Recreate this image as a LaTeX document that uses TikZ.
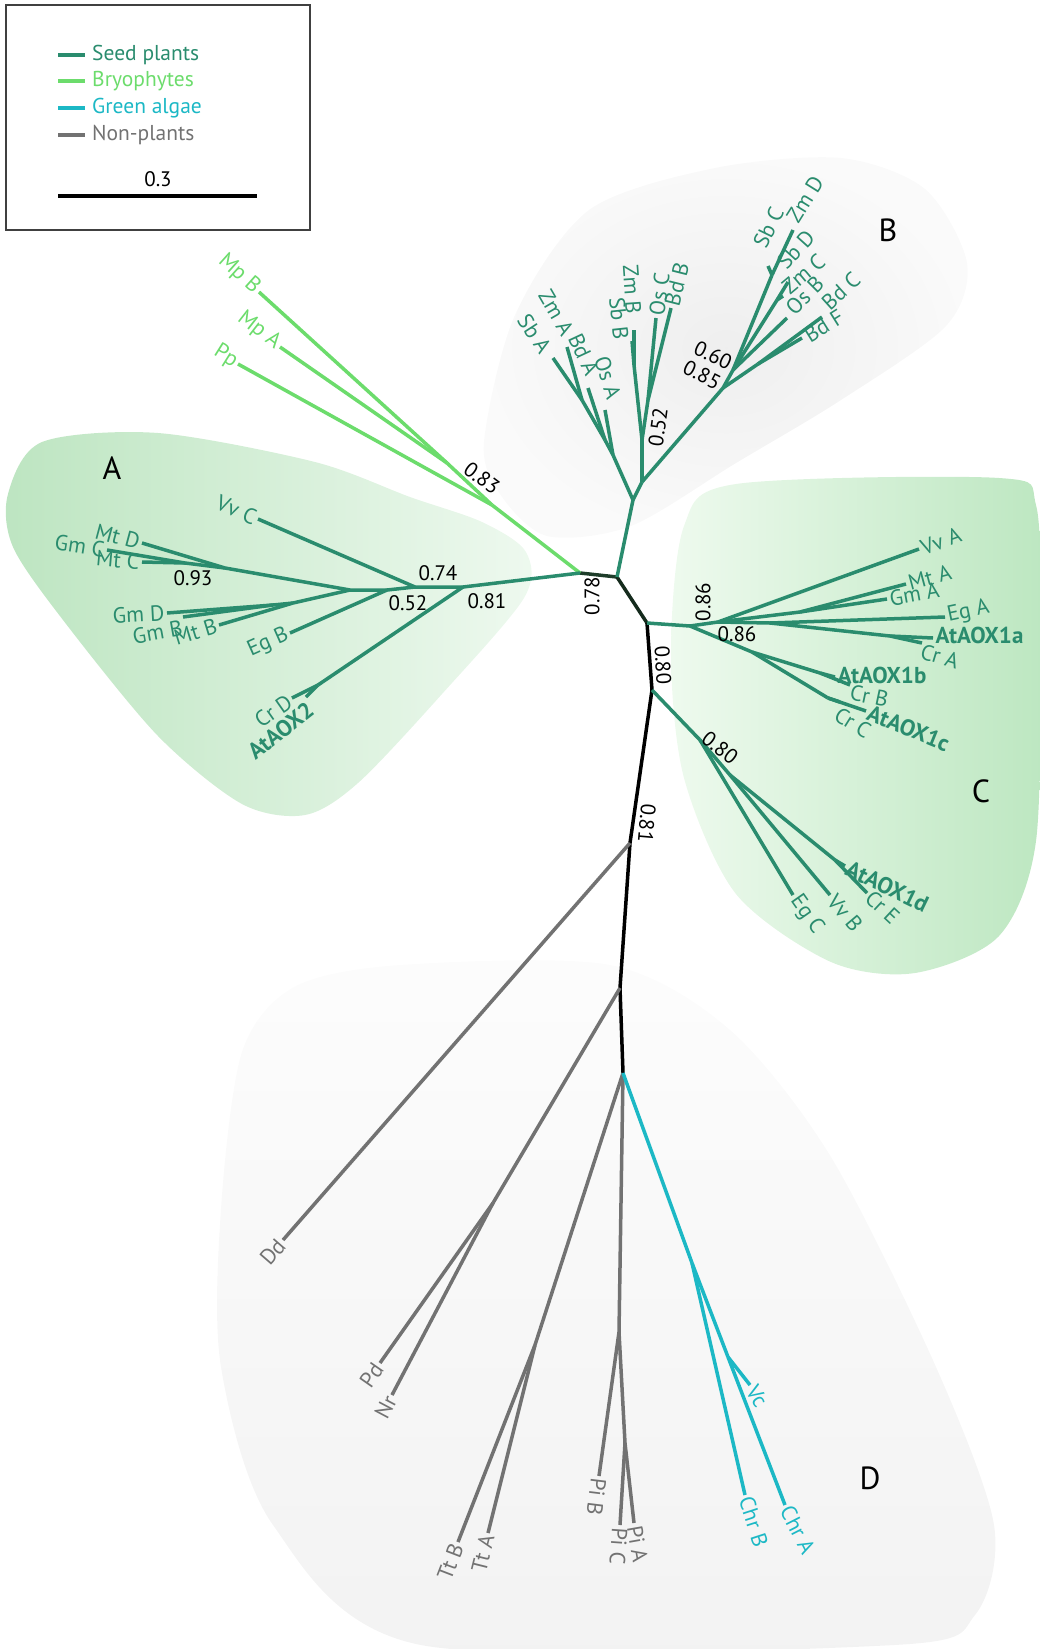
\documentclass[tikz,border=0pt]{standalone}
\usepackage{fontspec}
\setmainfont{PT Sans}
\definecolor{seedc}{HTML}{2A8C6E}
\definecolor{bryoc}{HTML}{6CDC6C}
\definecolor{algac}{HTML}{1CB8C5}
\definecolor{nonpc}{HTML}{727272}
\definecolor{rootc}{HTML}{1E3D2A}
\definecolor{blobAl}{HTML}{BDE5C1}
\definecolor{blobAr}{HTML}{EEF9EF}
\definecolor{blobCl}{HTML}{EEFAEE}
\definecolor{blobCr}{HTML}{BDE7C1}

\begin{document}
\begin{tikzpicture}[x=1pt, y=-1pt,
  br/.style={line width=3.5pt, line join=round},
  seed/.style={br, draw=seedc}, bryo/.style={br, draw=bryoc}, alga/.style={br, draw=algac},
  nonp/.style={br, draw=nonpc}, stem/.style={br, draw=black}, dark/.style={br, draw=rootc},
  lab/.style={inner sep=2.5pt, font=\fontsize{22}{24}\selectfont},
  slab/.style={lab, text=seedc}, blab/.style={lab, text=bryoc},
  alab/.style={lab, text=algac}, nlab/.style={lab, text=nonpc},
  key/.style={slab, font=\fontsize{23}{25}\selectfont\bfseries},
  bs/.style={inner sep=0pt, font=\fontsize{21}{23}\selectfont},
  leg/.style={inner sep=0pt, anchor=west, font=\fontsize{21.5}{24}\selectfont},
  clade/.style={inner sep=0pt, font=\fontsize{32}{36}\selectfont}]
\useasboundingbox (0,0) rectangle (1040,1649);

% shaded clade areas
\shade[left color=blobAl, right color=blobAr] plot[smooth cycle] coordinates {(8,494) (42,442) (158,433) (315,462) (410,497) (482,522) (526,552) (524,598) (442,694) (358,783) (305,815) (242,804) (158,736) (63,620) (13,547)};
\shade[inner color=gray!13, outer color=gray!4] plot[smooth cycle] coordinates {(484,442) (515,315) (589,210) (715,168) (841,158) (925,189) (967,263) (946,326) (841,400) (736,463) (631,526) (547,536) (500,494)};
\shade[left color=blobCl, right color=blobCr] plot[smooth cycle] coordinates {(684,526) (736,484) (999,478) (1036,505) (1040,631) (1036,841) (999,936) (915,973) (831,962) (736,894) (684,778) (671,652)};
\shade[top color=gray!2, bottom color=gray!10] plot[smooth cycle] coordinates {(221,1209) (242,1052) (294,987) (400,965) (610,965) (730,1030) (831,1157) (936,1367) (994,1525) (975,1615) (894,1645) (421,1645) (273,1525) (221,1367)};

% legend
\draw[line width=1.5pt, draw=black!75] (6,5) rectangle (310,230);
\draw[seed] (58,55) -- (85,55); \node[leg, text=seedc] (kSeed) at (92,55) {Seed plants};
\draw[bryo] (58,81) -- (85,81); \node[leg, text=bryoc] (kBryo) at (92,81) {Bryophytes};
\draw[alga] (58,108) -- (85,108); \node[leg, text=algac] (kAlga) at (92,108) {Green algae};
\draw[nonp] (58,135) -- (85,135); \node[leg, text=nonpc] (kNonp) at (92,135) {Non-plants};
\draw[line width=4pt] (58,196) -- (257,196); \node[bs] (kScale) at (158,179) {0.3};

% backbone
\coordinate (r78) at (580,573); \coordinate (r0) at (617,577); \coordinate (r86) at (647,623);
\coordinate (r80) at (652,690); \coordinate (r81) at (630,843); \coordinate (rP) at (620,988);
\coordinate (rT) at (623,1073);
\draw[dark] (r78) -- (r0); \draw[draw=rootc!70!black, br] (r0) -- (r86);
\draw[stem] (r86) -- (r80) -- (r81) -- (rP) -- (rT);

% bryophytes
\coordinate (b83) at (492,505); \coordinate (bMp) at (447,463);
\coordinate (tMpB) at (259,292); \coordinate (tMpA) at (280,347); \coordinate (tPp) at (238,364);
\draw[bryo] (r78) -- (b83); \draw[bryo] (b83) -- (tPp); \draw[bryo] (b83) -- (bMp);
\draw[bryo] (bMp) -- (tMpB); \draw[bryo] (bMp) -- (tMpA);
\node[blab, anchor=east, rotate=-42] (lMpB) at (tMpB) {Mp B};
\node[blab, anchor=east, rotate=-38] (lMpA) at (tMpA) {Mp A};
\node[blab, anchor=east, rotate=-32] (lPp) at (tPp) {Pp};

% clade A
\coordinate (a81) at (463,587); \coordinate (a74) at (415,587); \coordinate (a52) at (387,590);
\coordinate (agm) at (350,590); \coordinate (aU) at (225,568); \coordinate (aUb) at (185,563);
\coordinate (aL) at (293,603); \coordinate (aLb) at (273,605); \coordinate (a2) at (318,685);
\coordinate (tVvC) at (258,519); \coordinate (tMtD) at (142,543); \coordinate (tGmC) at (107,550);
\coordinate (tMtC) at (142,562); \coordinate (tGmD) at (167,613); \coordinate (tGmB) at (183,617);
\coordinate (tMtB) at (219,625); \coordinate (tEgB) at (290,633); \coordinate (tCrD) at (292,698);
\coordinate (tAOX2) at (306,697);
\draw[seed] (r78) -- (a81) -- (a74) -- (a52) -- (agm);
\draw[seed] (a74) -- (tVvC); \draw[seed] (a52) -- (tEgB);
\draw[seed] (agm) -- (aU); \draw[seed] (aU) -- (tMtD); \draw[seed] (aU) -- (aUb);
\draw[seed] (aUb) -- (tGmC); \draw[seed] (aUb) -- (tMtC);
\draw[seed] (agm) -- (aL); \draw[seed] (aL) -- (tMtB); \draw[seed] (aL) -- (aLb);
\draw[seed] (aLb) -- (tGmD); \draw[seed] (aLb) -- (tGmB);
\draw[seed] (a81) -- (a2); \draw[seed] (a2) -- (tCrD); \draw[seed] (a2) -- (tAOX2);
\node[slab, anchor=east, rotate=-23] (lVvC) at (tVvC) {Vv C};
\node[slab, anchor=east, rotate=-15] (lMtD) at (tMtD) {Mt D};
\node[slab, anchor=east, rotate=-9] (lGmC) at (tGmC) {Gm C};
\node[slab, anchor=east, rotate=-5] (lMtC) at (tMtC) {Mt C};
\node[slab, anchor=east, rotate=3] (lGmD) at (tGmD) {Gm D};
\node[slab, anchor=north east, rotate=10] (lGmB) at (tGmB) {Gm B};
\node[slab, anchor=east, rotate=17] (lMtB) at (tMtB) {Mt B};
\node[slab, anchor=east, rotate=24] (lEgB) at (tEgB) {Eg B};
\node[slab, anchor=east, rotate=35] (lCrD) at (tCrD) {Cr D};
\node[key, anchor=north east, rotate=38] (lAOX2) at (tAOX2) {AtAOX2};
\node[bs] (s74) at (438,573) {0.74};
\node[bs] (s52a) at (408,603) {0.52};
\node[bs] (s81a) at (487,601) {0.81};
\node[bs] (s93) at (193,578) {0.93};
\node[bs, rotate=-37] (s83) at (482,478) {0.83};
\node[bs, rotate=90] (s78) at (592,596) {0.78};
\node[clade] (cA) at (112,468) {A};

% clade B
\coordinate (bs) at (633,500); \coordinate (bl) at (613,455); \coordinate (bl2) at (605,440);
\coordinate (bl3) at (582,400); \coordinate (bR) at (642,482); \coordinate (b52) at (642,440);
\coordinate (bZB) at (634,365); \coordinate (bOB) at (648,400);
\coordinate (b85) at (723,388); \coordinate (b60) at (733,370); \coordinate (bZD) at (772,275);
\coordinate (bSD) at (777,300); \coordinate (bBd) at (758,364);
\coordinate (tSbA) at (553,358); \coordinate (tZmA) at (567,347); \coordinate (tBdA) at (588,388);
\coordinate (tOsA) at (605,410); \coordinate (tZmB) at (634,330); \coordinate (tSbB) at (632,341);
\coordinate (tOsC) at (656,318); \coordinate (tBdB) at (671,308);
\coordinate (tZmD) at (793,230); \coordinate (tSbC) at (768,266); \coordinate (tSbD) at (788,282);
\coordinate (tZmC) at (783,296); \coordinate (tOsB) at (787,318); \coordinate (tBdC) at (822,317);
\coordinate (tBdF) at (802,338);
\draw[seed] (r0) -- (bs) -- (bl); \draw[seed] (bs) -- (bR);
\draw[seed] (bl) -- (tOsA); \draw[seed] (bl) -- (bl2); \draw[seed] (bl2) -- (tBdA);
\draw[seed] (bl2) -- (bl3); \draw[seed] (bl3) -- (tSbA); \draw[seed] (bl3) -- (tZmA);
\draw[seed] (bR) -- (b52); \draw[seed] (b52) -- (bZB); \draw[seed] (bZB) -- (tZmB);
\draw[seed] (bZB) -- (tSbB); \draw[seed] (b52) -- (bOB); \draw[seed] (bOB) -- (tOsC);
\draw[seed] (bOB) -- (tBdB);
\draw[seed] (bR) -- (b85) -- (b60); \draw[seed] (b60) -- (bZD); \draw[seed] (bZD) -- (tZmD);
\draw[seed] (bZD) -- (tSbC); \draw[seed] (b60) -- (bSD); \draw[seed] (bSD) -- (tSbD);
\draw[seed] (bSD) -- (tZmC); \draw[seed] (b60) -- (tOsB);
\draw[seed] (b85) -- (bBd); \draw[seed] (bBd) -- (tBdC); \draw[seed] (bBd) -- (tBdF);
\node[slab, anchor=base east, rotate=-57] (lSbA) at ([xshift=-12pt]tSbA) {Sb A};
\node[slab, anchor=base east, rotate=-60] (lZmA) at ([shift={(-4pt,7pt)}]tZmA) {Zm A};
\node[slab, anchor=base east, rotate=-65] (lBdA) at ([shift={(-1pt,8pt)}]tBdA) {Bd A};
\node[slab, anchor=base east, rotate=-72] (lOsA) at ([shift={(3pt,7pt)}]tOsA) {Os A};
\node[slab, anchor=north east, rotate=-84] (lSbB) at (tSbB) {Sb B};
\node[slab, anchor=east, rotate=-86] (lZmB) at ([yshift=14pt]tZmB) {Zm B};
\node[slab, anchor=west, rotate=82] (lOsC) at (tOsC) {Os C};
\node[slab, anchor=west, rotate=76] (lBdB) at (tBdB) {Bd B};
\node[slab, anchor=base west, rotate=64] (lSbC) at ([shift={(-3pt,14pt)}]tSbC) {Sb C};
\node[slab, anchor=base west, rotate=58] (lZmD) at ([shift={(4pt,3pt)}]tZmD) {Zm D};
\node[slab, anchor=base west, rotate=48] (lSbD) at ([shift={(-3pt,9pt)}]tSbD) {Sb D};
\node[slab, anchor=base west, rotate=40] (lZmC) at ([shift={(5pt,-1pt)}]tZmC) {Zm C};
\node[slab, anchor=base west, rotate=45] (lOsB) at ([shift={(6pt,0pt)}]tOsB) {Os B};
\node[slab, anchor=base west, rotate=42] (lBdC) at ([shift={(6pt,4pt)}]tBdC) {Bd C};
\node[slab, anchor=base west, rotate=32] (lBdF) at ([shift={(6pt,-7pt)}]tBdF) {Bd F};
\node[bs, rotate=82] (s52b) at (658,427) {0.52};
\node[bs, rotate=-27] (s85) at (702,375) {0.85};
\node[bs, rotate=-25] (s60) at (713,355) {0.60};
\node[clade] (cB) at (888,230) {B};

% clade C
\coordinate (c86) at (690,626); \coordinate (cU) at (718,622); \coordinate (cM) at (800,612);
\coordinate (cE) at (770,623); \coordinate (cAA) at (890,636); \coordinate (cBC) at (752,652);
\coordinate (cB) at (820,673); \coordinate (cC) at (828,698);
\coordinate (cL) at (700,740); \coordinate (cV) at (730,775); \coordinate (cE2) at (835,860);
\coordinate (tVvA) at (919,549); \coordinate (tMtA) at (906,584); \coordinate (tGmA) at (887,599);
\coordinate (tEgA) at (945,617); \coordinate (tAOX1a) at (933,638); \coordinate (tCrA) at (922,643);
\coordinate (tAOX1b) at (835,677); \coordinate (tCrB) at (850,685); \coordinate (tAOX1c) at (866,711);
\coordinate (tCrC) at (840,702); \coordinate (tAOX1d) at (845,866); \coordinate (tCrE) at (867,893);
\coordinate (tVvB) at (830,895); \coordinate (tEgC) at (793,895);
\draw[seed] (r86) -- (c86) -- (cU); \draw[seed] (cU) -- (tVvA); \draw[seed] (cU) -- (cM);
\draw[seed] (cM) -- (tMtA); \draw[seed] (cM) -- (tGmA); \draw[seed] (cU) -- (cE);
\draw[seed] (cE) -- (tEgA); \draw[seed] (cE) -- (cAA); \draw[seed] (cAA) -- (tAOX1a);
\draw[seed] (cAA) -- (tCrA);
\draw[seed] (c86) -- (cBC); \draw[seed] (cBC) -- (cB); \draw[seed] (cB) -- (tAOX1b);
\draw[seed] (cB) -- (tCrB); \draw[seed] (cBC) -- (cC); \draw[seed] (cC) -- (tAOX1c);
\draw[seed] (cC) -- (tCrC);
\draw[seed] (r80) -- (cL); \draw[seed] (cL) -- (tEgC); \draw[seed] (cL) -- (cV);
\draw[seed] (cV) -- (tVvB); \draw[seed] (cV) -- (cE2); \draw[seed] (cE2) -- (tAOX1d);
\draw[seed] (cE2) -- (tCrE);
\node[slab, anchor=west, rotate=20] (lVvA) at (tVvA) {Vv A};
\node[slab, anchor=west, rotate=15] (lMtA) at (tMtA) {Mt A};
\node[slab, anchor=west, rotate=10] (lGmA) at (tGmA) {Gm A};
\node[slab, anchor=west, rotate=12] (lEgA) at (tEgA) {Eg A};
\node[key, anchor=west] (lAOX1a) at ([yshift=3pt]tAOX1a) {AtAOX1a};
\node[slab, anchor=north west, rotate=-17] (lCrA) at ([yshift=3pt]tCrA) {Cr A};
\node[key, anchor=west] (lAOX1b) at ([yshift=2pt]tAOX1b) {AtAOX1b};
\node[slab, anchor=north west, rotate=-12] (lCrB) at ([yshift=4pt]tCrB) {Cr B};
\node[key, anchor=west, rotate=-22] (lAOX1c) at (tAOX1c) {AtAOX1c};
\node[slab, anchor=north west, rotate=-32] (lCrC) at (tCrC) {Cr C};
\node[key, anchor=west, rotate=-26] (lAOX1d) at (tAOX1d) {AtAOX1d};
\node[slab, anchor=west, rotate=-43] (lCrE) at (tCrE) {Cr E};
\node[slab, anchor=west, rotate=-50] (lVvB) at (tVvB) {Vv B};
\node[slab, anchor=west, rotate=-55] (lEgC) at (tEgC) {Eg C};
\node[bs, rotate=90] (s86a) at (703,602) {0.86};
\node[bs] (s86b) at (737,634) {0.86};
\node[bs, rotate=-87] (s80a) at (663,665) {0.80};
\node[bs, rotate=-38] (s80b) at (720,748) {0.80};
\node[bs, rotate=-95] (s81b) at (647,823) {0.81};
\node[clade] (cC) at (981,791) {C};

% clade D
\coordinate (dPN) at (493,1203); \coordinate (dT) at (535,1345); \coordinate (dPi) at (619,1332);
\coordinate (dPAC) at (625,1443); \coordinate (gA) at (692,1263); \coordinate (gVC) at (728,1357);
\coordinate (tDd) at (283,1240); \coordinate (tPd) at (380,1363); \coordinate (tNr) at (392,1395);
\coordinate (tTtB) at (458,1542); \coordinate (tTtA) at (488,1533); \coordinate (tPiB) at (599,1476);
\coordinate (tPiC) at (620,1525); \coordinate (tPiA) at (634,1523); \coordinate (tChrB) at (745,1495);
\coordinate (tChrA) at (785,1505); \coordinate (tVc) at (750,1385);
\draw[nonp] (r81) -- (tDd);
\draw[nonp] (rP) -- (dPN); \draw[nonp] (dPN) -- (tPd); \draw[nonp] (dPN) -- (tNr);
\draw[nonp] (rT) -- (dT); \draw[nonp] (dT) -- (tTtB); \draw[nonp] (dT) -- (tTtA);
\draw[nonp] (rT) -- (dPi); \draw[nonp] (dPi) -- (tPiB); \draw[nonp] (dPi) -- (dPAC);
\draw[nonp] (dPAC) -- (tPiC); \draw[nonp] (dPAC) -- (tPiA);
\draw[alga] (rT) -- (gA); \draw[alga] (gA) -- (tChrB); \draw[alga] (gA) -- (gVC);
\draw[alga] (gVC) -- (tVc); \draw[alga] (gVC) -- (tChrA);
\node[nlab, anchor=east, rotate=49] (lDd) at (tDd) {Dd};
\node[nlab, anchor=east, rotate=55] (lPd) at (tPd) {Pd};
\node[nlab, anchor=east, rotate=62] (lNr) at (tNr) {Nr};
\node[nlab, anchor=east, rotate=69] (lTtB) at (tTtB) {Tt B};
\node[nlab, anchor=east, rotate=76] (lTtA) at (tTtA) {Tt A};
\node[nlab, anchor=west, rotate=-97] (lPiB) at (tPiB) {Pi B};
\node[nlab, anchor=west, rotate=-94] (lPiC) at (tPiC) {Pi C};
\node[nlab, anchor=west, rotate=-80] (lPiA) at (tPiA) {Pi A};
\node[alab, anchor=west, rotate=-72] (lChrB) at (tChrB) {Chr B};
\node[alab, anchor=west, rotate=-63] (lChrA) at (tChrA) {Chr A};
\node[alab, anchor=west, rotate=-58] (lVc) at (tVc) {Vc};
\node[clade] (cD) at (870,1478) {D};
\end{tikzpicture}
\end{document}
